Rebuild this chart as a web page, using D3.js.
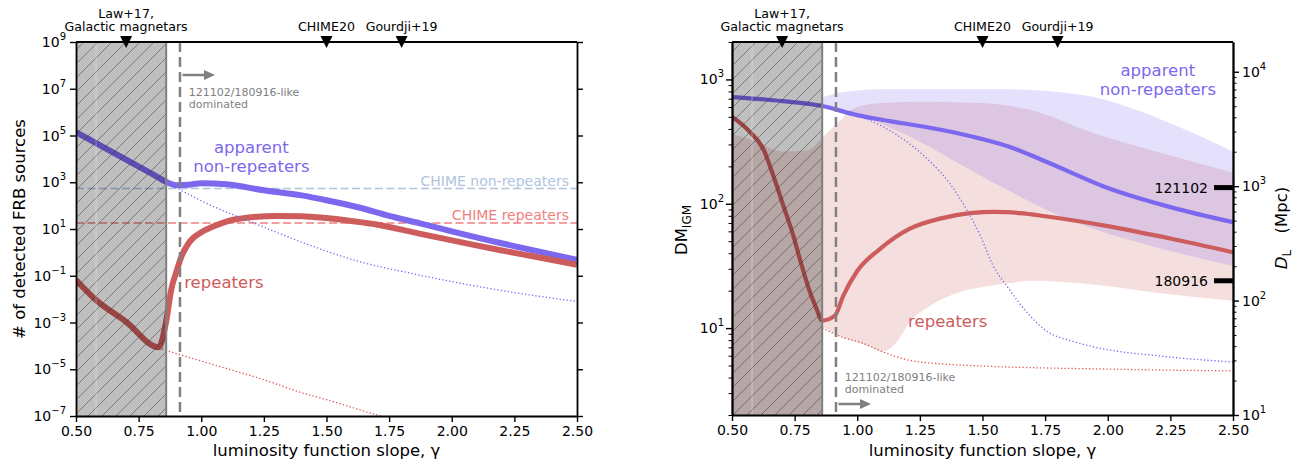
<!DOCTYPE html>
<html><head><meta charset="utf-8">
<script src="https://cdn.jsdelivr.net/npm/d3@7"></script>
<style>body{margin:0;background:#fff} text{font-family:"DejaVu Sans",sans-serif}</style>
</head><body>
<script>
// ---------------- DATA ----------------
// x values: luminosity function slope gamma
const xTicks = [0.5,0.75,1.0,1.25,1.5,1.75,2.0,2.25,2.5];
const yTicksCounts = [1e-7,1e-5,1e-3,1e-1,1e1,1e3,1e5,1e7,1e9];
const yTicksDM = [10,100,1000];
const yTicksDL = [10,100,1000,10000];

// left panel: number of detected FRB sources
const gNonRepN = [0.5,0.6,0.7,0.8,0.86,0.9,0.95,1.0,1.1,1.25,1.4,1.5,1.63,1.75,1.87,2.0,2.19,2.35,2.5];
const nonRepN  = [1.41e5,3.63e4,9.33e3,2.40e3,1047,741,776,912,813,457,275,170,83.2,36.3,17.8,7.94,2.57,1.07,0.479];
const gRepN = [0.5,0.58,0.7,0.83,0.86,0.88,0.9,0.92,0.95,1.0,1.05,1.1,1.2,1.3,1.4,1.5,1.6,1.7,1.87,2.03,2.19,2.35,2.5];
const repN  = [0.0661,0.00912,0.00107,8.71e-5,1.12e-3,0.0251,0.141,0.631,2.51,7.24,13.2,20.9,31.6,36.3,35.5,29.5,21.9,15.5,6.31,2.82,1.26,0.603,0.295];
const gNonRepNDot = [0.86,0.915,1.035,1.195,1.43,1.63,1.83,2.03,2.25,2.5];
const nonRepNDot  = [1000,479,107,20.9,2.09,0.407,0.132,0.049,0.0191,0.00794];
const gRepNDot = [0.83,1.0,1.25,1.4,1.5,1.7,1.8];
const repNDot  = [7.94e-5,2.24e-5,3.55e-6,1e-6,5.01e-7,1.12e-7,5.6e-8];
const chimeNonRep = 540;
const chimeRep = 18;

// right panel: DM_IGM
const gNonRepDM = [0.5,0.7,0.86,1.0,1.13,1.25,1.41,1.5,1.61,1.75,2.0,2.25,2.5];
const nonRepDM  = [721,670,611,516,462,422,366,331,286,220,134,94.0,71.1];
const gRepDM = [0.5,0.572,0.625,0.665,0.705,0.745,0.771,0.811,0.838,0.858,0.911,0.944,1.0,1.09,1.21,1.33,1.45,1.55,1.65,1.75,2.0,2.25,2.5];
const repDM  = [501,377,275,168,96.4,55.2,35.9,19.5,14.2,11.5,12.6,18.2,28.8,43.2,63.1,75.9,84.1,86.1,84.1,79.4,66.1,52.5,40.7];
const gNonRepDMDot = [0.92,1.0,1.21,1.29,1.37,1.44,1.49,1.54,1.6,1.68,1.76,1.85,1.94,2.21,2.5];
const nonRepDMDot  = [560,510,302,219,145,87.1,56.2,32.4,21.4,13.2,9.33,7.94,7.08,5.96,5.33];
const gRepDMDot = [0.86,0.95,1.02,1.1,1.2,1.35,1.5,2.0,2.5];
const repDMDot  = [10,8.32,7.59,6.46,5.56,5.13,4.95,4.68,4.52];
const gRepBand = [0.5,0.6,0.7,0.8,0.855,0.86,0.93,0.98,1.05,1.1,1.15,1.21,1.3,1.41,1.5,1.6,1.7,1.94,2.21,2.5];
const repBandHi = [363,316,263,269,331,339,462,575,631,646,653,661,661,653,646,617,562,372,257,178];
const repBandLo = [2,2,2,2,2,10,8.61,7.94,7.08,6.46,7.41,11.2,15.5,19.5,21.4,22.9,24.0,22.4,19.1,16.6];
const gNonRepBand = [0.86,0.92,1.0,1.1,1.2,1.4,1.61,1.8,1.94,2.21,2.5];
const nonRepBandHi = [716,776,813,832,832,832,832,794,724,479,263];
const nonRepBandLo = [600,575,540,437,355,214,126,81.3,63.1,43.7,31.6];

// FRB luminosity distances (Mpc)
const frbNames = ["121102","180916"];
const frbDL = [972,149];

// literature gamma markers
const refGamma = [0.7,1.5,1.8];
const refLabels = [["Law+17,","Galactic magnetars"],["CHIME20"],["Gourdji+19"]];

const shadedRange = [0.5,0.86];
const dominatedGamma = 0.915;

// ---------------- STYLE ----------------
const C = {blue:"#7b68ee", red:"#cd5c5c", chimeBlue:"#b0c4de", chimeRed:"#f08080", gray:"#808080"};

const W=1301,H=468;
const svg=d3.select("body").append("svg").attr("width",W).attr("height",H).style("background","#fff").style("display","block");
const defs=svg.append("defs");
const pat=defs.append("pattern").attr("id","hatch").attr("patternUnits","userSpaceOnUse").attr("width",14).attr("height",14);
pat.append("path").attr("d","M-3.5,3.5 L3.5,-3.5 M0,14 L14,0 M10.5,17.5 L17.5,10.5").attr("stroke","#3a3a3a").attr("stroke-width",0.6).attr("stroke-opacity",0.85);

const pL={x0:76,x1:577,y0:42,y1:416};
const pR={x0:732,x1:1233,y0:42,y1:415};
const xL=d3.scaleLinear().domain([0.5,2.5]).range([pL.x0,pL.x1]);
const yL=d3.scaleLog().domain([1e-7,1e9]).range([pL.y1,pL.y0]);
const xR=d3.scaleLinear().domain([0.5,2.5]).range([pR.x0,pR.x1]);
const yR=d3.scaleLog().domain([2,2000]).range([pR.y1,pR.y0]);
const yD=d3.scaleLog().domain([10,18200]).range([pR.y1,pR.y0]);

[["clipL",pL],["clipR",pR]].forEach(([id,p])=>{
  defs.append("clipPath").attr("id",id).append("rect").attr("x",p.x0).attr("y",p.y0).attr("width",p.x1-p.x0).attr("height",p.y1-p.y0);
});

function series(g,gx,vals,xs,ys,stroke,width,dash){
  const line=d3.line().x((d,i)=>xs(gx[i])).y((d,i)=>ys(vals[i])).curve(d3.curveMonotoneX);
  return g.append("path").attr("d",line(vals)).attr("fill","none").attr("stroke",stroke)
    .attr("stroke-width",width).attr("stroke-dasharray",dash||null).attr("stroke-linejoin","round");
}
function band(g,gx,lo,hi,xs,ys,fill,op){
  const area=d3.area().x((d,i)=>xs(gx[i])).y0((d,i)=>ys(lo[i])).y1((d,i)=>ys(hi[i])).curve(d3.curveMonotoneX);
  g.append("path").attr("d",area(gx)).attr("fill",fill).attr("fill-opacity",op);
}
function hatchRegion(g,xs,p){
  const xa=xs(shadedRange[0]), xb=xs(shadedRange[1]);
  g.append("rect").attr("x",xa).attr("y",p.y0).attr("width",xb-xa).attr("height",p.y1-p.y0).attr("fill","#000").attr("fill-opacity",0.25);
  g.append("rect").attr("x",xa).attr("y",p.y0).attr("width",xb-xa).attr("height",p.y1-p.y0).attr("fill","url(#hatch)");
  g.append("line").attr("x1",xs(0.58)).attr("x2",xs(0.58)).attr("y1",p.y0).attr("y2",p.y1).attr("stroke","#fff").attr("stroke-opacity",0.35).attr("stroke-width",1);
  g.append("line").attr("x1",xb).attr("x2",xb).attr("y1",p.y0).attr("y2",p.y1).attr("stroke",C.gray).attr("stroke-width",2);
  g.append("line").attr("x1",xs(dominatedGamma)).attr("x2",xs(dominatedGamma)).attr("y1",p.y0).attr("y2",p.y1)
    .attr("stroke",C.gray).attr("stroke-width",2.5).attr("stroke-dasharray","10,5");
}
function arrow(g,xs,y){
  const x1=xs(0.925), x2=xs(1.055);
  g.append("line").attr("x1",x1).attr("x2",x2-9).attr("y1",y).attr("y2",y).attr("stroke",C.gray).attr("stroke-width",2.5);
  g.append("path").attr("d",`M${x2-11},${y-5}L${x2},${y}L${x2-11},${y+5}Z`).attr("fill",C.gray);
}
function dominatedText(g,xs,y){
  const t=g.append("g").attr("fill",C.gray).attr("font-size",11);
  t.append("text").attr("x",xs(0.95)).attr("y",y).text("121102/180916-like");
  t.append("text").attr("x",xs(0.95)).attr("y",y+12).text("dominated");
}
function topMarkers(g,xs,y0){
  refGamma.forEach((gm,i)=>{
    const x=xs(gm);
    g.append("path").attr("d",`M${x-6},${y0-6}L${x+6},${y0-6}L${x},${y0+6}Z`).attr("fill","#000");
    const lines=refLabels[i];
    lines.forEach((s,j)=>{
      g.append("text").attr("x",x).attr("y",31-(lines.length-1-j)*13).attr("text-anchor","middle").attr("font-size",12.6).text(s);
    });
  });
}
function supLabel(g,x,y,v,anchor){
  const e=Math.round(Math.log10(v));
  const t=g.append("text").attr("x",x).attr("y",y).attr("text-anchor",anchor).attr("font-size",14).attr("fill","#000");
  t.append("tspan").text("10");
  t.append("tspan").attr("dy",-7).attr("font-size",10).text(e<0?"\u2212"+(-e):String(e));
}
function styleAxis(a,w){
  a.selectAll(".domain").attr("stroke","#000").attr("stroke-width",1.8);
  a.selectAll(".tick line").attr("stroke","#000").attr("stroke-width",w||1.4);
  a.selectAll(".tick text").attr("font-family","DejaVu Sans, sans-serif").attr("font-size",14).attr("fill","#000");
}
function minorTicks(dom){
  const out=[];
  for(let d=1e-8; d<1e6; d*=10){ for(let m=2;m<=9;m++){ const v=+(m*d).toPrecision(3); if(v>=dom[0]&&v<=dom[1]) out.push(v);} }
  return out;
}

// ================= LEFT PANEL =================
const gL=svg.append("g");
const cL=gL.append("g").attr("clip-path","url(#clipL)");
cL.append("line").attr("x1",pL.x0).attr("x2",pL.x1).attr("y1",yL(chimeNonRep)).attr("y2",yL(chimeNonRep))
  .attr("stroke",C.chimeBlue).attr("stroke-width",1.6).attr("stroke-dasharray","8,3.5");
cL.append("line").attr("x1",pL.x0).attr("x2",pL.x1).attr("y1",yL(chimeRep)).attr("y2",yL(chimeRep))
  .attr("stroke",C.chimeRed).attr("stroke-width",1.6).attr("stroke-dasharray","8,3.5");
gL.append("text").attr("x",xL(2.468)).attr("y",yL(chimeNonRep)-2.5).attr("text-anchor","end").attr("font-size",14).attr("fill",C.chimeBlue).text("CHIME non-repeaters");
gL.append("text").attr("x",xL(2.468)).attr("y",yL(chimeRep)-3).attr("text-anchor","end").attr("font-size",14).attr("fill",C.chimeRed).text("CHIME repeaters");

series(cL,gNonRepN,nonRepN,xL,yL,C.blue,6);
series(cL,gRepN,repN,xL,yL,C.red,6);
series(cL,gNonRepNDot,nonRepNDot,xL,yL,C.blue,1.3,"1.3,2.2");
series(cL,gRepNDot,repNDot,xL,yL,"#e05555",1.3,"1.3,2.2");
hatchRegion(gL,xL,pL);
arrow(gL,xL,75);
dominatedText(gL,xL,96);

gL.append("text").attr("x",xL(1.2)).attr("y",153).attr("text-anchor","middle").attr("font-size",16.5).attr("fill",C.blue).text("apparent");
gL.append("text").attr("x",xL(1.2)).attr("y",172).attr("text-anchor","middle").attr("font-size",16.5).attr("fill",C.blue).text("non-repeaters");
gL.append("text").attr("x",xL(0.932)).attr("y",288).attr("font-size",16.5).attr("fill",C.red).text("repeaters");

const axLB=gL.append("g").attr("transform",`translate(0,${pL.y1})`).call(d3.axisBottom(xL).tickValues(xTicks).tickFormat(d3.format(".2f")).tickSize(6).tickSizeOuter(0).tickPadding(4));
styleAxis(axLB);
const axLL=gL.append("g").attr("transform",`translate(${pL.x0},0)`).call(d3.axisLeft(yL).tickValues(yTicksCounts).tickFormat("").tickSize(6).tickSizeOuter(0));
styleAxis(axLL);
const axLR=gL.append("g").attr("transform",`translate(${pL.x1},0)`).call(d3.axisRight(yL).tickValues(yTicksCounts).tickFormat("").tickSize(6).tickSizeOuter(0));
styleAxis(axLR);
gL.append("line").attr("x1",pL.x0).attr("x2",pL.x1).attr("y1",pL.y0).attr("y2",pL.y0).attr("stroke","#000").attr("stroke-width",1.8);
yTicksCounts.forEach(v=>supLabel(gL,pL.x0-10,yL(v)+5,v,"end"));
topMarkers(gL,xL,pL.y0);
gL.append("text").attr("x",(pL.x0+pL.x1)/2).attr("y",456).attr("text-anchor","middle").attr("font-size",16.5).text("luminosity function slope, \u03b3");
gL.append("text").attr("transform",`translate(25,${(pL.y0+pL.y1)/2}) rotate(-90)`).attr("text-anchor","middle").attr("font-size",16.5).text("# of detected FRB sources");

// ================= RIGHT PANEL =================
const gR=svg.append("g");
const cR=gR.append("g").attr("clip-path","url(#clipR)");
band(cR,gRepBand,repBandLo,repBandHi,xR,yR,C.red,0.2);
band(cR,gNonRepBand,nonRepBandLo,nonRepBandHi,xR,yR,C.blue,0.2);
series(cR,gNonRepDM,nonRepDM,xR,yR,C.blue,4.2);
series(cR,gRepDM,repDM,xR,yR,C.red,4.2);
series(cR,gNonRepDMDot,nonRepDMDot,xR,yR,C.blue,1.3,"1.3,2.2");
series(cR,gRepDMDot,repDMDot,xR,yR,"#e05555",1.3,"1.3,2.2");
hatchRegion(gR,xR,pR);
arrow(gR,xR,404);
dominatedText(gR,xR,381);

gR.append("text").attr("x",xR(2.2)).attr("y",76).attr("text-anchor","middle").attr("font-size",16.5).attr("fill",C.blue).text("apparent");
gR.append("text").attr("x",xR(2.2)).attr("y",95).attr("text-anchor","middle").attr("font-size",16.5).attr("fill",C.blue).text("non-repeaters");
gR.append("text").attr("x",xR(1.203)).attr("y",327).attr("font-size",16.5).attr("fill",C.red).text("repeaters");

frbNames.forEach((n,i)=>{
  const y=yD(frbDL[i]);
  gR.append("rect").attr("x",pR.x1-19).attr("y",y-2.5).attr("width",19).attr("height",5).attr("fill","#000");
  gR.append("text").attr("x",pR.x1-25).attr("y",y+5).attr("text-anchor","end").attr("font-size",14).text(n);
});

const axRB=gR.append("g").attr("transform",`translate(0,${pR.y1})`).call(d3.axisBottom(xR).tickValues(xTicks).tickFormat(d3.format(".2f")).tickSize(6).tickSizeOuter(0).tickPadding(4));
styleAxis(axRB);
const axRLm=gR.append("g").attr("transform",`translate(${pR.x0},0)`).call(d3.axisLeft(yR).tickValues(minorTicks(yR.domain())).tickFormat("").tickSize(3.5).tickSizeOuter(0));
styleAxis(axRLm,1);
const axRL=gR.append("g").attr("transform",`translate(${pR.x0},0)`).call(d3.axisLeft(yR).tickValues(yTicksDM).tickFormat("").tickSize(6).tickSizeOuter(0));
styleAxis(axRL);
const axRRm=gR.append("g").attr("transform",`translate(${pR.x1},0)`).call(d3.axisRight(yD).tickValues(minorTicks(yD.domain())).tickFormat("").tickSize(3.5).tickSizeOuter(0));
styleAxis(axRRm,1);
const axRR=gR.append("g").attr("transform",`translate(${pR.x1},0)`).call(d3.axisRight(yD).tickValues(yTicksDL).tickFormat("").tickSize(6).tickSizeOuter(0));
styleAxis(axRR);
gR.append("line").attr("x1",pR.x0).attr("x2",pR.x1).attr("y1",pR.y0).attr("y2",pR.y0).attr("stroke","#000").attr("stroke-width",1.8);
yTicksDM.forEach(v=>supLabel(gR,pR.x0-8,yR(v)+5,v,"end"));
yTicksDL.forEach(v=>supLabel(gR,pR.x1+9,yD(v)+5,v,"start"));
topMarkers(gR,xR,pR.y0);
gR.append("text").attr("x",(pR.x0+pR.x1)/2).attr("y",456).attr("text-anchor","middle").attr("font-size",16.5).text("luminosity function slope, \u03b3");
const dmLab=gR.append("text").attr("transform",`translate(687,230) rotate(-90)`).attr("text-anchor","middle").attr("font-size",16.5);
dmLab.append("tspan").text("DM");
dmLab.append("tspan").attr("dy",4).attr("font-size",12).text("IGM");
const dlLab=gR.append("text").attr("transform",`translate(1287,228) rotate(-90)`).attr("text-anchor","middle").attr("font-size",16.5);
dlLab.append("tspan").attr("font-style","italic").text("D");
dlLab.append("tspan").attr("dy",4).attr("font-size",12).text("L");
dlLab.append("tspan").attr("dy",-4).text("\u2003(Mpc)");
</script>
</body></html>
